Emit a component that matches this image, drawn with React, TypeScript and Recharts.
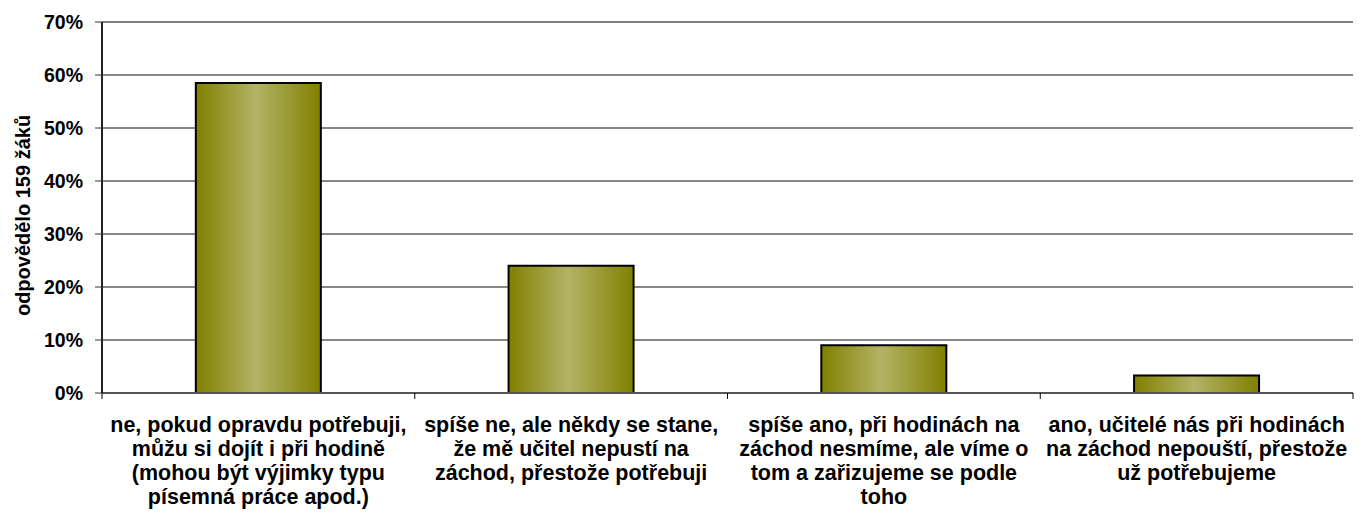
import React from 'react';
import {
  BarChart,
  Bar,
  XAxis,
  YAxis,
  CartesianGrid,
  ReferenceLine,
  Label,
} from 'recharts';

const categories = [
  'ne, pokud opravdu potřebuji,\nmůžu si dojít i při hodině\n(mohou být výjimky typu\npísemná práce apod.)',
  'spíše ne, ale někdy se stane,\nže mě učitel nepustí na\nzáchod, přestože potřebuji',
  'spíše ano, při hodinách na\nzáchod nesmíme, ale víme o\ntom a zařizujeme se podle\ntoho',
  'ano, učitelé nás při hodinách\nna záchod nepouští, přestože\nuž potřebujeme',
];
const shares = [58.5, 24.0, 9.0, 3.3];
const yTicks = [0, 10, 20, 30, 40, 50, 60, 70];
const yTitle = 'odpovědělo 159 žáků';

const W = 1363;
const H = 519;
const MARGIN = { top: 22, right: 10, left: 0, bottom: 0 };
const Y_W = 102;
const X_H = 126;
const BAND = (W - MARGIN.left - MARGIN.right - Y_W) / categories.length;
const FONT = '"Liberation Sans", Arial, sans-serif';

const data = categories.map((name, i) => ({ name, value: shares[i] }));

const CategoryTick = (props: any) => {
  const { x, y, payload, index } = props;
  const lines = String(payload.value).split('\n');
  return (
    <g>
      <line x1={x - BAND / 2} x2={x - BAND / 2} y1={y} y2={y + 6} stroke="#000" strokeWidth={1} />
      {index === categories.length - 1 && (
        <line x1={x + BAND / 2} x2={x + BAND / 2} y1={y} y2={y + 6} stroke="#000" strokeWidth={1} />
      )}
      {lines.map((l, i) => (
        <text
          key={i}
          x={x}
          y={y + 39 + i * 24}
          textAnchor="middle"
          fontFamily={FONT}
          fontWeight="bold"
          fontSize={21.5}
          fill="#000"
        >
          {l}
        </text>
      ))}
    </g>
  );
};

export default function App() {
  return (
    <div style={{ position: 'absolute', left: 0, top: 0, background: '#fff' }}>
      <BarChart width={W} height={H} data={data} margin={MARGIN} barCategoryGap="30%">
        <defs>
          <linearGradient id="olive" x1="0" y1="0" x2="1" y2="0">
            <stop offset="0%" stopColor="#808000" />
            <stop offset="48%" stopColor="#b3b366" />
            <stop offset="100%" stopColor="#808000" />
          </linearGradient>
        </defs>
        <CartesianGrid vertical={false} stroke="#111" strokeWidth={1} />
        <XAxis
          dataKey="name"
          height={X_H}
          interval={0}
          tickLine={false}
          tickSize={0}
          tickMargin={0}
          axisLine={{ stroke: '#555', strokeWidth: 2 }}
          tick={<CategoryTick />}
        />
        <YAxis
          width={Y_W}
          domain={[0, 70]}
          ticks={yTicks}
          interval={0}
          tickFormatter={(v) => `${v}%`}
          tickSize={7}
          tickMargin={12}
          tickLine={{ stroke: '#333' }}
          axisLine={{ stroke: '#222', strokeWidth: 2 }}
          tick={{ fill: '#000', fontSize: 19.5, fontWeight: 'bold', fontFamily: FONT }}
        >
          <Label
            value={yTitle}
            angle={-90}
            position="center"
            dx={-28}
            dy={8}
            style={{ fill: '#000', fontSize: 20, fontWeight: 'bold', fontFamily: FONT }}
          />
        </YAxis>
        <YAxis
          yAxisId="right"
          orientation="right"
          width={0}
          domain={[0, 70]}
          tick={false}
          tickLine={false}
          axisLine={{ stroke: '#808080', strokeWidth: 2 }}
        />
        <ReferenceLine y={70} stroke="#808080" strokeWidth={2} />
        <Bar
          dataKey="value"
          fill="url(#olive)"
          stroke="#000"
          strokeWidth={2}
          isAnimationActive={false}
        />
      </BarChart>
    </div>
  );
}
